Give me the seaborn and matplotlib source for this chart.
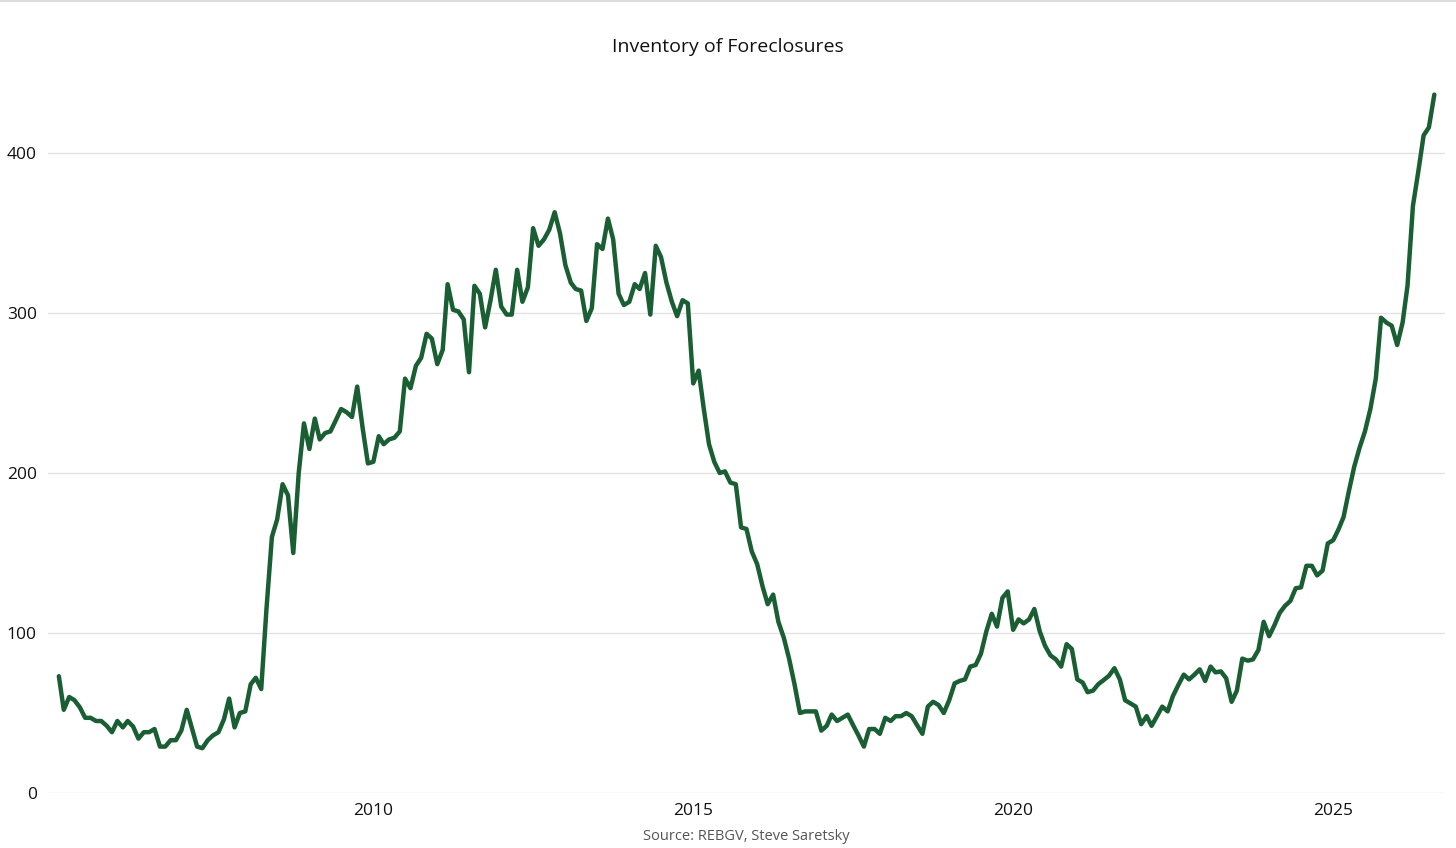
import matplotlib
matplotlib.use('Agg')
import matplotlib.pyplot as plt
import matplotlib.dates as mdates
from matplotlib.lines import Line2D
import seaborn as sns
import pandas as pd

# monthly foreclosure inventory, first month Feb 2005
start_month = '2005-02-01'
inventory = [
	73, 52, 60, 58, 53.5, 47, 47, 45, 45, 42, 38,
	45, 41, 45, 41.5, 34, 38, 38, 40, 29, 29, 33, 33,
	39, 52, 41, 29, 28, 33, 36, 38, 46, 59, 41, 50,
	51, 68, 72, 65, 115, 160, 171, 193, 186, 150, 200, 231,
	215, 234, 221, 225, 226, 233, 240, 238, 235, 254, 228, 206,
	207, 223, 218, 221, 222, 226, 259, 253, 267, 272, 287, 284,
	268, 277, 318, 302, 301, 296, 263, 317, 312, 291, 308, 327,
	304, 299, 299, 327, 307, 316, 353, 342, 346, 352, 363, 350,
	330, 319, 315, 314, 295, 303, 343, 340, 359, 346, 312, 305,
	307, 318, 315, 325, 299, 342, 335, 319, 307, 298, 308, 306,
	256, 264, 241, 218, 207, 200, 201, 194, 193, 166, 165, 151,
	143, 129, 118, 124, 107, 97, 84, 68, 50, 51, 51, 51,
	39, 42, 49, 45, 47, 49, 42.5, 36, 29, 40, 40, 37,
	47, 45, 48, 48, 50, 48, 42.5, 37, 54, 57, 55, 50,
	58, 68.5, 70, 71, 79, 80, 87, 101, 112, 104, 122, 126,
	102, 108.5, 106, 108.5, 115, 101, 92, 86, 83.5, 79, 93, 90,
	71, 69, 63, 64, 68, 70.6, 73.3, 78, 71, 58, 56, 54,
	43, 48, 42, 48, 54, 51, 60.6, 67.5, 74, 71, 74, 77.3,
	70, 79, 75.4, 76, 71.7, 57, 64, 84, 82.7, 83.5, 89.4, 107,
	98, 105, 112.5, 117, 120, 128, 128.5, 142, 142, 136, 139, 156,
	158, 165, 172.5, 189, 204, 216, 226, 240, 259, 297, 294, 292,
	280, 294, 317, 367, 388, 411, 416, 436.5,
]
tick_years = [2010, 2015, 2020, 2025]
y_ticks = [0, 100, 200, 300, 400]


def main():
	sns.set_theme(style="white")
	plt.rcParams['font.family'] = ['Open Sans', 'DejaVu Sans']

	dates = pd.date_range(start_month, periods=len(inventory), freq='MS')
	df = pd.DataFrame({'month': dates, 'inventory': inventory})

	fig = plt.figure(figsize=(14.56, 8.48), dpi=100)
	ax = fig.add_axes([48/1456, 55/848, 1397/1456, 712/848])

	sns.lineplot(data=df, x='month', y='inventory', color='#1a5e33', linewidth=3.2, ax=ax)

	ax.set_ylim(0, 445)
	ax.set_xlim(pd.Timestamp('2004-12-01'), pd.Timestamp('2026-10-01'))
	ax.set_yticks(y_ticks)
	ax.set_xticks([pd.Timestamp(f'{y}-01-01') for y in tick_years])
	ax.xaxis.set_major_formatter(mdates.DateFormatter('%Y'))
	ax.grid(axis='y', color='#e3e3e3', linewidth=1)
	ax.grid(axis='x', visible=False)
	for s in ax.spines.values():
		s.set_visible(False)
	ax.tick_params(axis='both', length=0, labelsize=12.5, labelcolor='#111111')
	ax.tick_params(axis='y', pad=8)
	ax.tick_params(axis='x', pad=7)
	ax.set_xlabel('')
	ax.set_ylabel('')

	fig.text(0.5, 1 - 47/848, 'Inventory of Foreclosures', ha='center', va='center',
		fontsize=14, color='#111111')
	fig.text(746/1456, 1 - 836/848, 'Source: REBGV, Steve Saretsky', ha='center', va='center',
		fontsize=10.5, color='#555555')
	fig.add_artist(Line2D([0, 1], [0.999, 0.999], color='#dddddd', linewidth=1.5,
		transform=fig.transFigure))

	fig.savefig('out.png', dpi=100)


if __name__ == '__main__':
	main()
